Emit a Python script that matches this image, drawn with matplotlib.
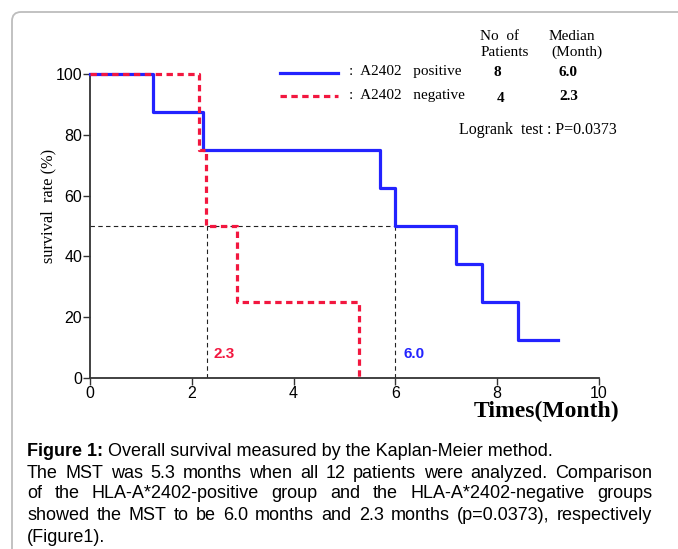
import matplotlib
matplotlib.use("Agg")
import matplotlib.pyplot as plt
from matplotlib.patches import FancyBboxPatch
from matplotlib.transforms import IdentityTransform
from matplotlib.lines import Line2D

# ---- data ----
pos_times = [0, 1.23, 2.22, 5.7, 6.0, 7.2, 7.7, 8.4, 9.2]
pos_surv = [100, 87.5, 75, 62.5, 50, 37.5, 25, 12.5, 12.5]
neg_times = [0, 2.15, 2.27, 2.88, 5.28]
neg_surv = [100, 75, 50, 25, 0]
median_pos = 6.0
median_neg = 2.3
x_ticks = [0, 2, 4, 6, 8, 10]
y_ticks = [0, 20, 40, 60, 80, 100]
groups = [":  A2402   positive", ":  A2402   negative"]
n_patients = ["8", "4"]
medians = ["6.0", "2.3"]
logrank = "Logrank  test : P=0.0373"
caption_first_bold = "Figure 1:"
caption_first_rest = " Overall survival measured by the Kaplan-Meier method."
caption_justified = [
    "The MST was 5.3 months when all 12 patients were analyzed. Comparison",
    "of the HLA-A*2402-positive group and the HLA-A*2402-negative groups",
    "showed the MST to be 6.0 months and 2.3 months (p=0.0373), respectively",
]
caption_last = "(Figure1)."

BLUE = "#2323ff"
RED = "#f2173f"
SERIF = "Liberation Serif"
SANS = "Liberation Sans"

W, H = 678, 549
fig = plt.figure(figsize=(W / 100, H / 100), dpi=100)

# border
border = FancyBboxPatch((12, -20), 700, H - 12 + 20, boxstyle="round,pad=0,rounding_size=9",
                        transform=IdentityTransform(), fill=False, edgecolor="#bdbdbd", lw=1.3)
fig.patches.append(border)

ax = fig.add_axes([90 / W, 1 - 378 / H, (599 - 90) / W, (378 - 74) / H])
ax.step(pos_times, pos_surv, where="post", color=BLUE, lw=2.3, clip_on=False, zorder=3)
ax.step(neg_times, neg_surv, where="post", color=RED, lw=2.3, dashes=(2.0, 1.4), clip_on=False, zorder=4)

ref = dict(color="#222222", lw=0.8, dashes=(4, 3))
ax.plot([0, median_pos], [50, 50], **ref)
ax.plot([median_neg, median_neg], [0, 50], **ref)
ax.plot([median_pos, median_pos], [0, 50], **ref)
ax.text(median_neg + 0.12, 8, f"{median_neg:.1f}", color=RED, fontsize=11, fontweight="bold",
        family=SANS, va="center", ha="left")
ax.text(median_pos + 0.15, 8, f"{median_pos:.1f}", color=BLUE, fontsize=11, fontweight="bold",
        family=SANS, va="center", ha="left")

ax.set_xlim(0, 10)
ax.set_ylim(0, 100)
ax.set_xticks(x_ticks)
ax.set_yticks(y_ticks)
for s in ["top", "right"]:
    ax.spines[s].set_visible(False)
for s in ["left", "bottom"]:
    ax.spines[s].set_color("#333333")
    ax.spines[s].set_linewidth(1.3)
ax.tick_params(direction="out", length=5, width=1.0, color="#333333", labelsize=11.5, pad=0.5)
for lab in ax.get_xticklabels() + ax.get_yticklabels():
    lab.set_family(SANS)


def px(x, y):
    return x / W, 1 - y / H


fig.text(*px(48, 206), "survival  rate (%)", family=SERIF, fontsize=11.8, rotation=90,
         ha="center", va="center")
fig.text(619 / W, 1 - 411 / H, "Times(Month)", family=SERIF, fontsize=17, fontweight="bold",
         ha="right", va="center")

# legend / table
fig.add_artist(Line2D([280 / W, 338 / W], [1 - 73 / H] * 2, color=BLUE, lw=2.3))
fig.add_artist(Line2D([280 / W, 338 / W], [1 - 96 / H] * 2, color=RED, lw=2.3, dashes=(2.0, 1.4)))
LFS = 11
for i, (g, n, m) in enumerate(zip(groups, n_patients, medians)):
    yy = [72, 96][i]
    fig.text(*px(349, yy), g, family=SERIF, fontsize=LFS, ha="left", va="center")
    fig.text(*px([497, 501][i], yy + (2 if i else 0)), n, family=SERIF, fontsize=LFS,
             fontweight="bold", ha="center", va="center")
    fig.text(*px([568, 569][i], yy), m, family=SERIF, fontsize=LFS, fontweight="bold",
             ha="center", va="center")
fig.text(*px(500, 37), "No  of", family=SERIF, fontsize=LFS, ha="center", va="center")
fig.text(*px(505, 52), "Patients", family=SERIF, fontsize=LFS, ha="center", va="center")
fig.text(*px(572, 37), "Median", family=SERIF, fontsize=LFS, ha="center", va="center")
fig.text(*px(577, 52), "(Month)", family=SERIF, fontsize=LFS, ha="center", va="center")
fig.text(*px(459, 130), logrank, family=SERIF, fontsize=11.5, ha="left", va="center")

# caption
CAP_FS = 13
left_px, right_px = 27, 652
line_y = [452, 473, 494, 516, 537]
fig.canvas.draw()
renderer = fig.canvas.get_renderer()


def width_of(t):
    return t.get_window_extent(renderer=renderer).width


tb = fig.text(*px(left_px, line_y[0]), caption_first_bold, family=SANS, fontsize=CAP_FS,
              fontweight="bold", ha="left", va="center")
wb = width_of(tb)
fig.text(*px(left_px + wb, line_y[0]), caption_first_rest, family=SANS, fontsize=CAP_FS,
         ha="left", va="center")

for li, line in enumerate(caption_justified):
    words = line.split(" ")
    ts = [fig.text(0, 1 - line_y[li + 1] / H, w, family=SANS, fontsize=CAP_FS, ha="left", va="center")
          for w in words]
    ws = [width_of(t) for t in ts]
    gap = (right_px - left_px - sum(ws)) / (len(words) - 1)
    x = left_px
    for t, w in zip(ts, ws):
        t.set_x(x / W)
        x += w + gap
fig.text(*px(left_px, line_y[4]), caption_last, family=SANS, fontsize=CAP_FS, ha="left", va="center")

fig.savefig("out.png", dpi=100)
